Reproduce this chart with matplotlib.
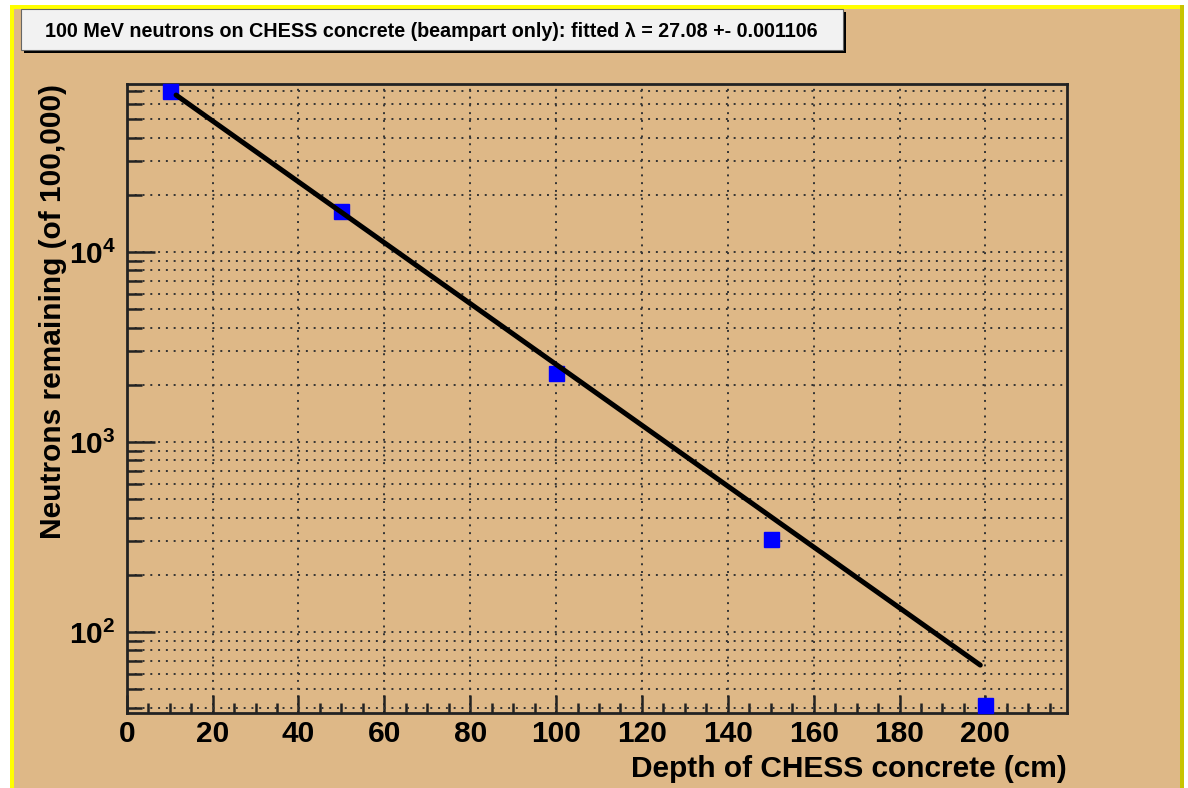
import numpy as np
import matplotlib.pyplot as plt
from matplotlib.patches import Rectangle
from matplotlib.ticker import MultipleLocator, LogLocator, NullFormatter, LogFormatterMathtext

plt.rcParams['font.family'] = ['Liberation Sans', 'DejaVu Sans']
plt.rcParams['font.weight'] = 'bold'
plt.rcParams['mathtext.fontset'] = 'custom'
plt.rcParams['mathtext.rm'] = 'Liberation Sans:bold'
plt.rcParams['mathtext.it'] = 'Liberation Sans:bold'
plt.rcParams['mathtext.bf'] = 'Liberation Sans:bold'

# measured points (depth in cm, neutrons left of 100k)
depth = [10, 50, 100, 150, 200]
neutrons = [70300, 16400, 2310, 308, 41.1]

# fitted exponential, ends
fit_depth = [11.5, 198.8]
fit_neutrons = [67000, 67]

title = '100 MeV neutrons on CHESS concrete (beampart only): fitted λ = 27.08 +- 0.001106'
xlabel = 'Depth of CHESS concrete (cm)'
ylabel = 'Neutrons remaining (of 100,000)'

tan = '#deb887'
W, H = 1188, 788
fig = plt.figure(figsize=(W / 100, H / 100), dpi=100, facecolor='white')


def box(x0, y0, w, h, **kw):
    # rectangle in pixel coords (origin top left)
    r = Rectangle((x0 / W, 1 - (y0 + h) / H), w / W, h / H,
                  transform=fig.transFigure, **kw)
    fig.patches.append(r)
    return r


# pad + yellow frame like the ROOT canvas
box(10, 5, 1173, 800, facecolor=tan, edgecolor='none', zorder=0)
box(10, 5, 1173, 3.5, facecolor='#ffff00', edgecolor='none', zorder=1)
box(10, 5, 3.5, 800, facecolor='#ffff00', edgecolor='none', zorder=1)
box(1180, 5, 3.5, 800, facecolor='#c8c400', edgecolor='none', zorder=1)

# title pave with shadow
box(24, 12, 822, 41, facecolor='black', edgecolor='none', zorder=2)
box(21, 9, 822, 41, facecolor='#f2f2f2', edgecolor='#666666', linewidth=0.8, zorder=3)
fig.text(45 / W, 1 - 37 / H, title, fontsize=14.2, fontweight='bold',
         va='baseline', ha='left', zorder=4)

ax = fig.add_axes([126.7 / W, 1 - 713 / H, (1067 - 126.7) / W, (713 - 84) / H])
ax.set_zorder(5)
ax.set_facecolor('none')
ax.set_yscale('log')
ax.set_xlim(0, 219)
ax.set_ylim(37.5, 76600)

ax.xaxis.set_major_locator(MultipleLocator(20))
ax.xaxis.set_minor_locator(MultipleLocator(5))
ax.yaxis.set_major_locator(LogLocator(base=10))
ax.yaxis.set_minor_locator(LogLocator(base=10, subs=np.arange(2, 10)))
ax.yaxis.set_minor_formatter(NullFormatter())
ax.yaxis.set_major_formatter(LogFormatterMathtext())

grid_kw = dict(color='#333333', linestyle=(0, (1, 3)), linewidth=1.4)
ax.yaxis.grid(True, which='both', **grid_kw)
ax.xaxis.grid(True, which='major', **grid_kw)
ax.set_axisbelow(True)

ax.tick_params(axis='both', which='both', direction='in', color='#222222',
               width=1.8, labelsize=21.5)
ax.tick_params(axis='y', which='major', length=20, pad=8)
ax.tick_params(axis='y', which='minor', length=10.8)
ax.tick_params(axis='x', which='major', length=13, pad=5)
ax.tick_params(axis='x', which='minor', length=7.2)
for lab in ax.get_xticklabels() + ax.get_yticklabels():
    lab.set_fontweight('bold')

for s in ax.spines.values():
    s.set_linewidth(2)
    s.set_color('#222222')

ax.plot(depth, neutrons, 's', ms=10.8, color='#0000ff', mec='#0000ff',
        zorder=3, clip_on=False)
ax.plot(fit_depth, fit_neutrons, '-', color='black', lw=3.6,
        solid_capstyle='round', zorder=4)

ax.set_xlabel(xlabel, fontsize=21.5, fontweight='bold', ha='right', va='baseline')
ax.xaxis.set_label_coords(1.0, (713 - 777) / 629)
ax.set_ylabel(ylabel, fontsize=21.5, fontweight='bold', ha='right', va='center')
ax.yaxis.set_label_coords((53 - 126.7) / 940.3, 1.0)

fig.savefig('out.png', dpi=100, facecolor='white')
